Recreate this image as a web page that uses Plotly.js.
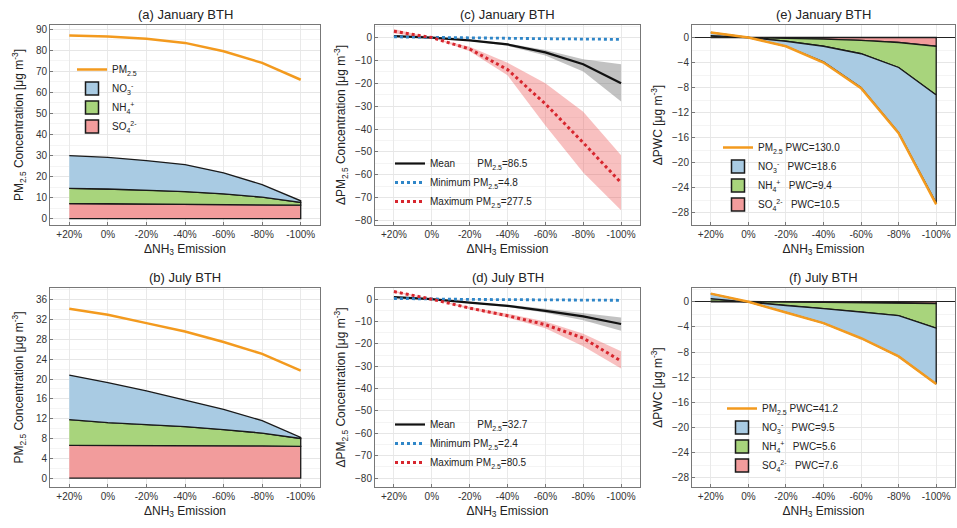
<!DOCTYPE html>
<html>
<head>
<meta charset="utf-8">
<script src="https://cdn.plot.ly/plotly-3.0.1.min.js"></script>
<style>html,body{margin:0;padding:0;background:#fff}#chart{width:957px;height:528px}</style>
</head>
<body>
<div id="chart"></div>
<script>
// ---------- DATA ----------
const categories = ['+20%', '0%', '-20%', '-40%', '-60%', '-80%', '-100%'];

// (a) January BTH concentrations
const pmJan  = [87.0, 86.5, 85.5, 83.5, 79.5, 74.0, 66.0];
const so4Jan = [7.2, 7.1, 7.0, 6.9, 6.8, 6.6, 6.4];
const nh4Jan = [7.2, 7.0, 6.6, 6.0, 5.0, 3.6, 1.3];
const no3Jan = [15.6, 15.0, 14.0, 12.8, 10.0, 6.0, 0.8];

// (b) July BTH concentrations
const pmJul  = [34.2, 33.0, 31.3, 29.6, 27.5, 25.1, 21.7];
const so4Jul = [6.6, 6.6, 6.6, 6.5, 6.5, 6.5, 6.4];
const nh4Jul = [5.2, 4.6, 4.2, 3.9, 3.3, 2.6, 1.6];
const no3Jul = [9.0, 8.1, 6.8, 5.4, 4.1, 2.5, 0.2];

// (c) January delta PM2.5
const meanJan   = [0.6, 0, -1.2, -3.0, -6.5, -11.7, -20.0];
const meanJanHi = [0.9, 0, -0.9, -2.5, -5.4, -9.5, -11.7];
const meanJanLo = [0.3, 0, -1.5, -3.6, -7.8, -14.8, -28.0];
const minJan    = [0.3, 0, -0.15, -0.3, -0.5, -0.7, -0.8];
const maxJan    = [2.8, 0, -5.0, -14.0, -29.0, -46.0, -63.5];
const maxJanHi  = [3.8, 0, -4.0, -11.0, -20.0, -32.5, -51.5];
const maxJanLo  = [1.8, 0, -6.0, -16.5, -38.5, -59.0, -75.5];
const statPmJan = [86.5, 4.8, 277.5];   // mean, minimum, maximum PM2.5

// (d) July delta PM2.5
const meanJul   = [0.9, 0, -1.5, -3.0, -5.2, -7.7, -11.1];
const meanJulHi = [1.1, 0, -1.2, -2.5, -4.3, -6.3, -8.2];
const meanJulLo = [0.7, 0, -1.8, -3.5, -6.1, -9.4, -14.1];
const minJul    = [0.3, 0, -0.1, -0.2, -0.3, -0.4, -0.5];
const maxJul    = [3.4, 0, -4.0, -7.4, -11.4, -17.4, -27.7];
const maxJulHi  = [3.8, 0, -3.5, -6.5, -10.0, -15.5, -23.3];
const maxJulLo  = [3.0, 0, -4.5, -8.2, -13.0, -21.0, -31.0];
const statPmJul = [32.7, 2.4, 80.5];

// (e) January delta PWC
const pwcPmJan  = [0.8, 0, -1.4, -4.0, -8.1, -15.3, -26.7];
const pwcSo4Jan = [0.1, 0, -0.1, -0.25, -0.45, -0.8, -1.4];
const pwcNh4Jan = [0.2, 0, -0.5, -1.15, -2.15, -4.0, -7.8];
const pwcNo3Jan = [0.5, 0, -0.8, -2.5, -5.4, -10.4, -17.3];
const pwcLabelJan = [130.0, 18.6, 9.4, 10.5]; // PM2.5, NO3, NH4, SO4

// (f) July delta PWC
const pwcPmJul  = [1.3, 0, -1.7, -3.4, -5.8, -8.7, -13.1];
const pwcSo4Jul = [0.1, 0, -0.05, -0.1, -0.15, -0.2, -0.3];
const pwcNh4Jul = [0.4, 0, -0.55, -1.0, -1.45, -2.0, -3.9];
const pwcNo3Jul = [0.8, 0, -1.1, -2.3, -4.2, -6.5, -8.9];
const pwcLabelJul = [41.2, 9.5, 5.6, 7.6];

// ---------- STYLE ----------
const C = {
  orange: '#f39a1e', blue: '#a9cbe3', green: '#a8d47c', red: '#f29c9c',
  edge: '#1a1a1a', dotBlue: '#2f86c8', dotRed: '#d7262e',
  greyBand: 'rgba(120,120,120,0.45)', redBand: 'rgba(236,90,90,0.38)'
};
const FONT = 'Liberation Sans, Arial, Helvetica, sans-serif';

const PM = 'PM<sub>2.5</sub>';
const NO3 = 'NO<sub>3</sub><sup>-</sup>';
const NH4 = 'NH<sub>4</sub><sup>+</sup>';
const SO4 = 'SO<sub>4</sub><sup>2-</sup>';

function cumsum(arrs) {
  const out = []; let run = categories.map(() => 0);
  arrs.forEach(a => { const bottom = run.slice(); run = run.map((v, i) => v + a[i]); out.push({bottom, top: run.slice()}); });
  return out;
}
function polygon(top, bottom) {
  return {
    x: categories.concat(categories.slice().reverse()),
    y: top.concat(bottom.slice().reverse())
  };
}
const NB = '\u00a0';

function stackedTraces(xa, ya, so4, nh4, no3, pm, legendId, labels) {
  const layers = cumsum([so4, nh4, no3]);
  const names = labels ? [
      SO4 + NB.repeat(3) + 'PWC=' + labels[3].toFixed(1),
      NH4 + NB.repeat(3) + 'PWC=' + labels[2].toFixed(1),
      NO3 + NB.repeat(3) + 'PWC=' + labels[1].toFixed(1),
      PM + ' PWC=' + labels[0].toFixed(1)]
    : [SO4, NH4, NO3, PM];
  const fills = [C.red, C.green, C.blue];
  const ranks = [4, 3, 2, 1];
  const tr = layers.map((l, k) => Object.assign(polygon(l.top, l.bottom), {
    type: 'scatter', mode: 'lines', fill: 'toself', fillcolor: fills[k],
    line: {color: C.edge, width: 1.3}, xaxis: xa, yaxis: ya,
    showlegend: false, hoverinfo: 'skip'
  }));
  tr.push({
    type: 'scatter', mode: 'lines', x: categories, y: pm, xaxis: xa, yaxis: ya,
    line: {color: C.orange, width: 2.5}, name: names[3], legend: legendId || 'legend',
    legendrank: 1, showlegend: !!legendId
  });
  if (legendId) {
    // legend swatches (boxes with dark border), no visible marks
    layers.forEach((l, k) => tr.push({
      type: 'scatter', mode: 'markers', x: [categories[0]], y: [null], xaxis: xa, yaxis: ya,
      marker: {symbol: 'square', size: 13, color: fills[k], line: {color: C.edge, width: 1.5}},
      name: names[k], legend: legendId, legendrank: ranks[k], hoverinfo: 'skip'
    }));
  }
  return tr;
}

function deltaTraces(xa, ya, mean, meanHi, meanLo, mn, mx, mxHi, mxLo, stats, legendId) {
  const band = (hi, lo, col) => Object.assign(polygon(hi, lo), {
    type: 'scatter', mode: 'lines', fill: 'toself', fillcolor: col,
    line: {width: 0, color: col}, xaxis: xa, yaxis: ya, showlegend: false, hoverinfo: 'skip'
  });
  return [
    band(mxHi, mxLo, C.redBand),
    band(meanHi, meanLo, C.greyBand),
    {type: 'scatter', mode: 'lines', x: categories, y: mean, xaxis: xa, yaxis: ya,
     line: {color: '#111', width: 2.2}, legend: legendId, legendrank: 1,
     name: 'Mean' + NB.repeat(8) + PM + '=' + stats[0]},
    {type: 'scatter', mode: 'lines', x: categories, y: mn, xaxis: xa, yaxis: ya,
     line: {color: C.dotBlue, width: 2.8, dash: 'dot'}, legend: legendId, legendrank: 2,
     name: 'Minimum' + NB + PM + '=' + stats[1]},
    {type: 'scatter', mode: 'lines', x: categories, y: mx, xaxis: xa, yaxis: ya,
     line: {color: C.dotRed, width: 3, dash: 'dot'}, legend: legendId, legendrank: 3,
     name: 'Maximum' + NB + PM + '=' + stats[2]}
  ];
}

const data = [].concat(
  stackedTraces('x', 'y', so4Jan, nh4Jan, no3Jan, pmJan, 'legend', null),
  stackedTraces('x4', 'y4', so4Jul, nh4Jul, no3Jul, pmJul, null, null),
  deltaTraces('x2', 'y2', meanJan, meanJanHi, meanJanLo, minJan, maxJan, maxJanHi, maxJanLo, statPmJan, 'legend2'),
  deltaTraces('x5', 'y5', meanJul, meanJulHi, meanJulLo, minJul, maxJul, maxJulHi, maxJulLo, statPmJul, 'legend3'),
  stackedTraces('x3', 'y3', pwcSo4Jan, pwcNh4Jan, pwcNo3Jan, pwcPmJan, 'legend4', pwcLabelJan),
  stackedTraces('x6', 'y6', pwcSo4Jul, pwcNh4Jul, pwcNo3Jul, pwcPmJul, 'legend5', pwcLabelJul)
);

// ---------- LAYOUT ----------
const W = 957, H = 528;
const px = (a, b) => [a / W, b / W];
const py = (top, bot) => [1 - bot / H, 1 - top / H];

function xAxis(dom, anchor) {
  return {
    domain: dom, anchor: anchor, type: 'category', categoryarray: categories,
    range: [-0.5, 6.5], showline: true, mirror: true, linecolor: '#777', linewidth: 1,
    ticks: 'inside', ticklen: 3, tickcolor: '#777', showgrid: true, gridcolor: '#e9e9e9',
    zeroline: false, tickfont: {family: FONT, size: 10, color: '#333'},
    title: {text: '\u0394NH<sub>3</sub> Emission', font: {family: FONT, size: 12, color: '#222'}, standoff: 5},
    automargin: false, fixedrange: true
  };
}
function yAxis(dom, anchor, range, dtick, minor, title, zero, standoff) {
  return {
    domain: dom, anchor: anchor, range: range, dtick: dtick, showline: true, mirror: true,
    linecolor: '#777', linewidth: 1, ticks: 'inside', ticklen: 3, tickcolor: '#777',
    showgrid: true, gridcolor: '#e6e6e6',
    minor: {dtick: minor, showgrid: true, gridcolor: '#f4f4f4', ticks: ''},
    zeroline: !!zero, zerolinecolor: '#222', zerolinewidth: 1.3,
    tickfont: {family: FONT, size: 10, color: '#333'},
    title: {text: title, font: {family: FONT, size: 12, color: '#222'}, standoff: standoff || 6},
    automargin: false, fixedrange: true
  };
}
const yConc = PM + ' Concentration [\u03bcg m<sup>-3</sup>]';
const yDelta = '\u0394' + PM + ' Concentration [\u03bcg m<sup>-3</sup>]';
const yPwc = '\u0394PWC [\u03bcg m<sup>-3</sup>]';

const colA = px(50, 320), colC = px(375, 640), colE = px(692, 955);
const rowTop = py(25, 225), rowBot = py(288, 487);

const legendBase = {
  bgcolor: 'rgba(255,255,255,0)', borderwidth: 0, xanchor: 'left', yanchor: 'top',
  font: {family: FONT, size: 10, color: '#222'}, tracegroupgap: 0, itemwidth: 30
};

const titles = [
  ['(a) January BTH', 'x', 'y'], ['(c) January BTH', 'x2', 'y2'], ['(e) January BTH', 'x3', 'y3'],
  ['(b) July BTH', 'x4', 'y4'], ['(d) July BTH', 'x5', 'y5'], ['(f) July BTH', 'x6', 'y6']
];

const layout = {
  width: W, height: H, margin: {l: 0, r: 0, t: 0, b: 0},
  paper_bgcolor: '#fff', plot_bgcolor: '#fff', showlegend: true,
  font: {family: FONT},
  xaxis: xAxis(colA, 'y'), yaxis: yAxis(rowTop, 'x', [-3, 92], 10, 5, yConc, false, 9),
  xaxis2: xAxis(colC, 'y2'), yaxis2: yAxis(rowTop, 'x2', [-82, 5.5], 10, 5, yDelta),
  xaxis3: xAxis(colE, 'y3'), yaxis3: yAxis(rowTop, 'x3', [-30, 2], 4, 2, yPwc, true),
  xaxis4: xAxis(colA, 'y4'), yaxis4: yAxis(rowBot, 'x4', [-1.8, 38.4], 4, 2, yConc, false, 9),
  xaxis5: xAxis(colC, 'y5'), yaxis5: yAxis(rowBot, 'x5', [-84, 5], 10, 5, yDelta),
  xaxis6: xAxis(colE, 'y6'), yaxis6: yAxis(rowBot, 'x6', [-29.5, 2.2], 4, 2, yPwc, true),
  legend:  Object.assign({}, legendBase, {x: 72 / W, y: 1 - 55 / H}),
  legend2: Object.assign({}, legendBase, {x: 390 / W, y: 1 - 149 / H}),
  legend3: Object.assign({}, legendBase, {x: 390 / W, y: 1 - 410 / H}),
  legend4: Object.assign({}, legendBase, {x: 718 / W, y: 1 - 133 / H}),
  legend5: Object.assign({}, legendBase, {x: 722 / W, y: 1 - 394 / H}),
  annotations: titles.map(t => ({
    text: t[0], xref: t[1] + ' domain', yref: t[2] + ' domain', x: 0.5, y: 1,
    xanchor: 'center', yanchor: 'bottom', yshift: 1, showarrow: false,
    font: {family: FONT, size: 13, color: '#222'}
  }))
};

Plotly.newPlot('chart', data, layout, {displayModeBar: false, staticPlot: true});
</script>
</body>
</html>
